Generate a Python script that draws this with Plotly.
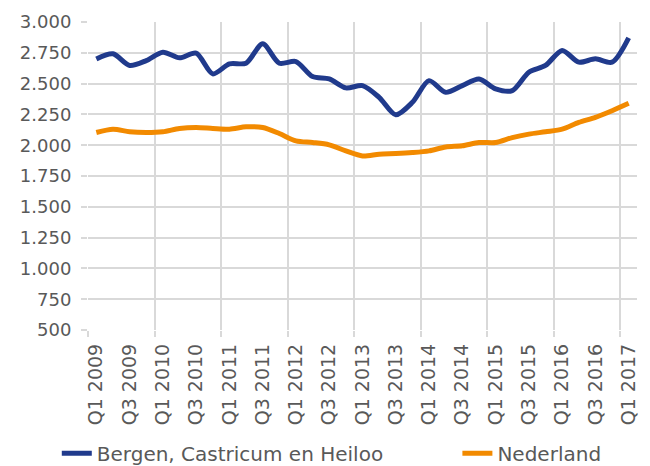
import plotly.graph_objects as go

quarters = [f"Q{q} {y}" for y in range(2009, 2018) for q in (1, 2, 3, 4)][:33]

bergen = [2700, 2742, 2647, 2687, 2755, 2709, 2747, 2579, 2660, 2666, 2823, 2665,
          2679, 2557, 2538, 2465, 2484, 2389, 2247, 2348, 2524, 2429, 2484, 2538,
          2457, 2443, 2592, 2647, 2769, 2674, 2701, 2674, 2872]
nederland = [2103, 2130, 2109, 2103, 2109, 2136, 2144, 2136, 2130, 2149, 2144, 2095,
             2035, 2022, 2003, 1954, 1913, 1927, 1932, 1940, 1954, 1986, 1995, 2022,
             2022, 2062, 2090, 2109, 2130, 2185, 2226, 2280, 2340]

xi = list(range(len(quarters)))
label_idx = xi[::2]
label_text = [quarters[i] for i in label_idx]
grid_x = [i - 0.5 for i in xi[::4]]

FONT = "DejaVu Sans"
TXT = "#595959"
GRID = "#D9D9D9"

# page body has an 8px margin; figure fills the rest of the 650x466 window
W, H = 642, 458

fig = go.Figure()
fig.add_trace(go.Scatter(x=xi, y=bergen, mode="lines", name="Bergen, Castricum en Heiloo",
                         legend="legend",
                         line=dict(color="#203A8C", width=5, shape="spline", smoothing=0.8)))
fig.add_trace(go.Scatter(x=xi, y=nederland, mode="lines", name="Nederland",
                         legend="legend2",
                         line=dict(color="#F28A00", width=5, shape="spline", smoothing=0.8)))

leg_common = dict(orientation="h", xref="container", yref="container",
                  yanchor="middle", xanchor="left", y=0.028,
                  bgcolor="rgba(0,0,0,0)",
                  font=dict(family=FONT, size=20, color=TXT))

fig.update_layout(
    width=W, height=H,
    margin=dict(l=80, r=13, t=14, b=136, autoexpand=False),
    plot_bgcolor="white", paper_bgcolor="white",
    separators=",.",
    font=dict(family=FONT, size=18, color=TXT),
    showlegend=True,
    legend=dict(x=0.076, **leg_common),
    legend2=dict(x=0.700, **leg_common),
    xaxis=dict(range=[-0.5, len(quarters) - 0.5], tickmode="array",
               tickvals=label_idx, ticktext=label_text, tickangle=-90,
               showgrid=False, zeroline=False, ticks="", automargin=False,
               ticklabelstandoff=9,
               minor=dict(tickmode="array", tickvals=grid_x, showgrid=True,
                          gridcolor=GRID, gridwidth=1.5, ticks="outside",
                          ticklen=6, tickcolor=GRID, tickwidth=1.5),
               tickfont=dict(family=FONT, size=19, color=TXT)),
    yaxis=dict(range=[500, 3000], tick0=500, dtick=250, tickformat=",",
               showgrid=True, gridcolor=GRID, gridwidth=1.5, zeroline=False,
               ticks="outside", ticklen=6, tickcolor=GRID, tickwidth=1.5,
               automargin=False, ticklabelstandoff=6,
               tickfont=dict(family=FONT, size=18, color=TXT)),
)

fig.write_html("out.html")
